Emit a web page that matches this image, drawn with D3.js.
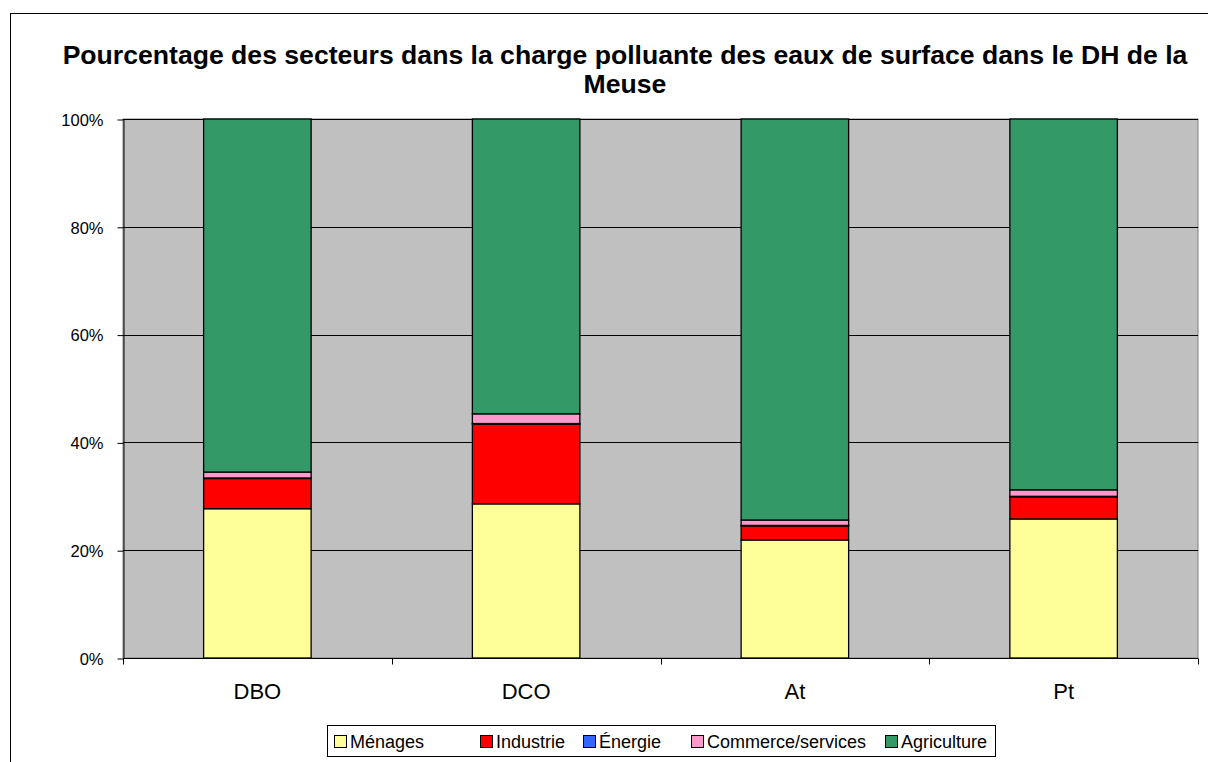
<!DOCTYPE html>
<html>
<head>
<meta charset="utf-8">
<script src="https://cdn.jsdelivr.net/npm/d3@7"></script>
<style>
  body { margin: 0; background: #fff; }
  svg { display: block; font-family: Arial, "Liberation Sans", sans-serif; }
</style>
</head>
<body>
<svg id="svg1" width="1208" height="762"></svg>
<script>
// données (en %)
var categories = ["DBO", "DCO", "At", "Pt"];
var secteurs = ["Ménages", "Industrie", "Énergie", "Commerce/services", "Agriculture"];
var menages     = [27.7, 28.6, 21.9, 25.8];
var industrie   = [5.6, 14.8, 2.6, 4.1];
var energie     = [0.1, 0.1, 0.1, 0.1];
var commerce    = [1.1, 1.8, 1.0, 1.2];
var agriculture = [65.5, 54.7, 74.4, 68.8];
var couleurs = ["#FFFF99", "#FF0000", "#3366FF", "#FF99CC", "#339966"];
var yTicks = [0, 20, 40, 60, 80, 100];

var series = [menages, industrie, energie, commerce, agriculture];
var data = categories.map(function(c, i) {
    var row = {cat: c};
    secteurs.forEach(function(s, j) { row[s] = series[j][i]; });
    return row;
});

var svg = d3.select("#svg1");
var margin = {top: 119, right: 10, bottom: 104, left: 123};
var width = 1208, height = 762;

// cadre extérieur (coupé à droite et en bas comme l'original)
svg.append("rect")
    .attr("x", 10.5).attr("y", 13.5)
    .attr("width", 1230).attr("height", 800)
    .style("fill", "#fff").style("stroke", "#000").style("stroke-width", 1);

var xScale = d3.scaleBand().domain(categories)
    .range([margin.left, width - margin.right]).paddingInner(0).paddingOuter(0);
var yScale = d3.scaleLinear().domain([0, 100]).range([height - margin.bottom, margin.top]);

// fond de la zone de traçage
svg.append("rect")
    .attr("x", margin.left).attr("y", margin.top)
    .attr("width", xScale.range()[1] - margin.left)
    .attr("height", yScale(0) - yScale(100))
    .style("fill", "#C0C0C0").style("stroke", "#808080");

// quadrillage
svg.append("g").selectAll("line")
    .data(yTicks.slice(1))
    .enter().append("line")
    .attr("x1", margin.left).attr("x2", xScale.range()[1])
    .attr("y1", d => Math.round(yScale(d)) + 0.5)
    .attr("y2", d => Math.round(yScale(d)) + 0.5)
    .style("stroke", "#000");

// barres empilées
var stack = d3.stack().keys(secteurs)(data);
var barW = xScale.bandwidth() * 0.4;
svg.append("g").selectAll("g")
    .data(stack)
    .enter().append("g")
    .style("fill", (d, i) => couleurs[i])
    .selectAll("rect")
    .data(d => d)
    .enter().append("rect")
    .attr("x", d => xScale(d.data.cat) + (xScale.bandwidth() - barW) / 2)
    .attr("y", d => yScale(d[1]))
    .attr("width", barW)
    .attr("height", d => yScale(d[0]) - yScale(d[1]))
    .style("stroke", "#000").style("stroke-width", 1.3);

// axe des ordonnées
var yAxis = g => g
    .attr("transform", `translate(${margin.left + 0.5}, 0.5)`)
    .call(d3.axisLeft(yScale).tickValues(yTicks).tickFormat(d => d + "%").tickSize(6).tickSizeOuter(0))
    .call(g => g.selectAll("text").style("font-size", "16.5px").style("fill", "#000").attr("x", -20).attr("dy", "0.35em"))
    .call(g => g.selectAll("line, path").style("stroke", "#000"));
svg.append("g").call(yAxis);

// axe des abscisses
var xAxis = g => g
    .attr("transform", `translate(0, ${yScale(0) + 0.5})`)
    .call(g => g.append("line")
        .attr("x1", margin.left).attr("x2", xScale.range()[1])
        .style("stroke", "#000"))
    .call(g => g.selectAll("line.tick")
        .data(categories.concat([null]))
        .enter().append("line").attr("class", "tick")
        .attr("x1", (d, i) => Math.round(margin.left + i * xScale.step()) + 0.5)
        .attr("x2", (d, i) => Math.round(margin.left + i * xScale.step()) + 0.5)
        .attr("y1", 0).attr("y2", 6)
        .style("stroke", "#000"))
    .call(g => g.selectAll("text")
        .data(categories)
        .enter().append("text")
        .attr("x", d => xScale(d) + xScale.bandwidth() / 2)
        .attr("y", 40)
        .style("text-anchor", "middle")
        .style("font-size", "22px")
        .text(d => d));
svg.append("g").call(xAxis);

// titre
var titre = svg.append("text")
    .style("text-anchor", "middle")
    .style("font-size", "26.6px")
    .style("font-weight", "bold");
titre.append("tspan").attr("x", 625).attr("y", 64)
    .text("Pourcentage des secteurs dans la charge polluante des eaux de surface dans le DH de la");
titre.append("tspan").attr("x", 625).attr("y", 93).text("Meuse");

// légende
var legende = svg.append("g");
legende.append("rect")
    .attr("x", 327.5).attr("y", 725.5).attr("width", 668).attr("height", 31)
    .style("fill", "#fff").style("stroke", "#000");
var legX = [334, 480, 583, 691, 885];
var item = legende.selectAll("g.item")
    .data(secteurs)
    .enter().append("g").attr("class", "item")
    .attr("transform", (d, i) => `translate(${legX[i]}, 735)`);
item.append("rect")
    .attr("x", 0.5).attr("y", 0.5).attr("width", 12).attr("height", 12)
    .style("fill", (d, i) => couleurs[i]).style("stroke", "#000");
item.append("text")
    .attr("x", 16).attr("y", 13)
    .style("font-size", "18px")
    .text(d => d);
</script>
</body>
</html>
